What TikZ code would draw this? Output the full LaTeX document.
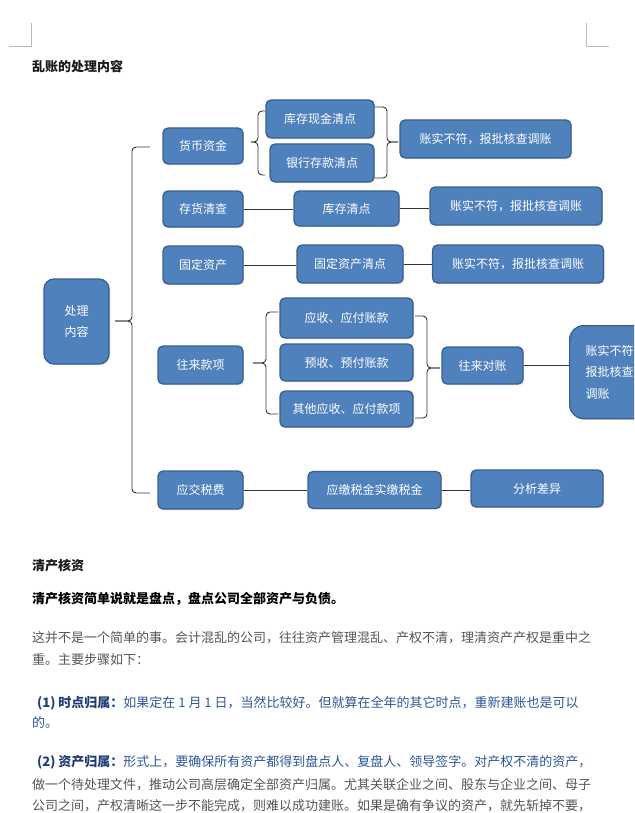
\documentclass[tikz,border=0pt]{standalone}
\usepackage{fontspec}
\setmainfont{Noto Sans CJK SC}
\usetikzlibrary{shadows}
\definecolor{boxfill}{HTML}{4F81BD}
\definecolor{boxline}{HTML}{3A5F8F}
\definecolor{brk}{HTML}{333333}
\definecolor{graytext}{HTML}{555555}
\definecolor{bluetext}{HTML}{2B579A}
\definecolor{navytext}{HTML}{1F3D7A}
\definecolor{cornerc}{HTML}{BBBBBB}
\definecolor{headc}{HTML}{1A1A1A}
\begin{document}
\begin{tikzpicture}[x=1pt,y=-1pt,
  box/.style={draw=boxline, fill=boxfill, line width=1.3pt, rounded corners=5pt,
    text=white, font=\fontsize{12}{14}\selectfont, inner sep=0pt, align=center,
    drop shadow={shadow xshift=1.2pt, shadow yshift=-1.2pt, opacity=0.25}},
  conn/.style={draw=brk, line width=0.9pt},
  bracket/.style={draw=brk, line width=0.9pt, rounded corners=4pt},
  txt/.style={anchor=west, inner sep=0pt, font=\fontsize{13}{15}\selectfont},
  cornermark/.style={draw=cornerc, line width=0.8pt}]
\useasboundingbox (0,0) rectangle (634,813);
\begin{scope}
\clip (0,0) rectangle (634,813);
% corner marks
\draw[cornermark] (9,46) -- (31,46) -- (31,23);
\draw[cornermark] (586,23) -- (586,46) -- (609,46);
% headings and text
\node[txt, text=headc, font=\fontsize{13}{15}\selectfont\bfseries] (h1) at (32,67) {乱账的处理内容};
\node[txt, text=headc, font=\fontsize{13}{15}\selectfont\bfseries] (h2) at (32,566) {清产核资};
\node[txt, text=black, font=\fontsize{13}{15}\selectfont\bfseries] (h3) at (32,599) {清产核资简单说就是盘点，盘点公司全部资产与负债。};
\node[txt, text=graytext] (p1) at (32,638) {这并不是一个简单的事。会计混乱的公司，往往资产管理混乱、产权不清，理清资产产权是重中之};
\node[txt, text=graytext] (p2) at (32,660) {重。主要步骤如下：};
\node[txt, text=bluetext] (q1) at (37,703) {\textcolor{navytext}{\bfseries (1)\ 时点归属：}如果定在 1 月 1 日，当然比较好。但就算在全年的其它时点，重新建账也是可以};
\node[txt, text=bluetext] (q2) at (32,722) {的。};
\node[txt, text=bluetext] (r1) at (37,762) {\textcolor{navytext}{\bfseries (2)\ 资产归属：}形式上，要确保所有资产都得到盘点人、复盘人、领导签字。对产权不清的资产，};
\node[txt, text=graytext] (r2) at (32,785) {做一个待处理文件，推动公司高层确定全部资产归属。尤其关联企业之间、股东与企业之间、母子};
\node[txt, text=graytext] (r3) at (32,806) {公司之间，产权清晰这一步不能完成，则难以成功建账。如果是确有争议的资产，就先斩掉不要，};
% boxes
\node[box, minimum width=65pt, minimum height=85pt, rounded corners=10pt, font=\fontsize{12}{21}\selectfont] (main) at (76.5,321.5) {处理\\内容};
\node[box, minimum width=80pt, minimum height=36pt] (hb) at (203,146) {货币资金};
\node[box, minimum width=108pt, minimum height=38pt] (kx) at (320,119) {库存现金清点};
\node[box, minimum width=104pt, minimum height=38pt] (yh) at (322,163) {银行存款清点};
\node[box, minimum width=171pt, minimum height=38pt] (z1) at (485.5,139) {账实不符，报批核查调账};
\node[box, minimum width=80pt, minimum height=36pt] (ch) at (203,209) {存货清查};
\node[box, minimum width=105pt, minimum height=35pt] (kc) at (346.5,208.5) {库存清点};
\node[box, minimum width=172pt, minimum height=38pt] (z2) at (516,206) {账实不符，报批核查调账};
\node[box, minimum width=80pt, minimum height=38pt] (gd) at (203,265) {固定资产};
\node[box, minimum width=106pt, minimum height=38pt] (gq) at (350,264) {固定资产清点};
\node[box, minimum width=171pt, minimum height=38pt] (z3) at (518,264) {账实不符，报批核查调账};
\node[box, minimum width=85pt, minimum height=38pt] (wl) at (200.5,365) {往来款项};
\node[box, minimum width=133pt, minimum height=40pt] (ys) at (346.5,318) {应收、应付账款};
\node[box, minimum width=133pt, minimum height=37pt] (yf) at (346.5,362.5) {预收、预付账款};
\node[box, minimum width=133pt, minimum height=36pt] (qt) at (346.5,409) {其他应收、应付款项};
\node[box, minimum width=81pt, minimum height=37pt] (wd) at (482.5,365.5) {往来对账};
\node[box, anchor=north west, minimum width=106pt, minimum height=93pt, rounded corners=14pt,
  align=left, text width=74pt, inner xsep=16pt, font=\fontsize{12}{21.5}\selectfont] (zt) at (569,325) {账实不符，\\报批核查\\调账};
\node[box, minimum width=85pt, minimum height=38pt] (sf) at (200.5,490) {应交税费};
\node[box, minimum width=133pt, minimum height=37pt] (yj) at (374.5,490) {应缴税金实缴税金};
\node[box, minimum width=132pt, minimum height=37pt] (fx) at (537,488.5) {分析差异};
% straight connectors
\draw[conn] (ch.east) -- (ch.east -| kc.west);
\draw[conn] (kc.east) -- (kc.east -| z2.west);
\draw[conn] (gd.east) -- (gd.east -| gq.west);
\draw[conn] (gq.east) -- (gq.east -| z3.west);
\draw[conn] (wd.east) -- (wd.east -| zt.west);
\draw[conn] (sf.east) -- (sf.east -| yj.west);
\draw[conn] (yj.east) -- (yj.east -| fx.west);
% brackets
\coordinate (b1t) at (150,147);
\coordinate (b1b) at (150,493);
\coordinate (b1p) at (115,321);
\draw[bracket] (b1t) -- (132,147) -- (132,321) -- (b1p);
\draw[bracket] (b1b) -- (132,493) -- (132,321) -- (b1p);
\coordinate (b2t) at (265,111);
\coordinate (b2b) at (265,175);
\coordinate (b2p) at (251,142);
\draw[bracket] (b2t) -- (258,111) -- (258,142) -- (b2p);
\draw[bracket] (b2b) -- (258,175) -- (258,142) -- (b2p);
\coordinate (b3t) at (375,107);
\coordinate (b3b) at (375,178);
\coordinate (b3p) at (398,142);
\draw[bracket] (b3t) -- (387,107) -- (387,142) -- (b3p);
\draw[bracket] (b3b) -- (387,178) -- (387,142) -- (b3p);
\coordinate (b4t) at (278,312);
\coordinate (b4b) at (278,414);
\coordinate (b4p) at (253,363);
\draw[bracket] (b4t) -- (266,312) -- (266,363) -- (b4p);
\draw[bracket] (b4b) -- (266,414) -- (266,363) -- (b4p);
\coordinate (b5t) at (415,316);
\coordinate (b5b) at (415,418);
\coordinate (b5p) at (440,368);
\draw[bracket] (b5t) -- (427,316) -- (427,368) -- (b5p);
\draw[bracket] (b5b) -- (427,418) -- (427,368) -- (b5p);
\end{scope}
\end{tikzpicture}
\end{document}
